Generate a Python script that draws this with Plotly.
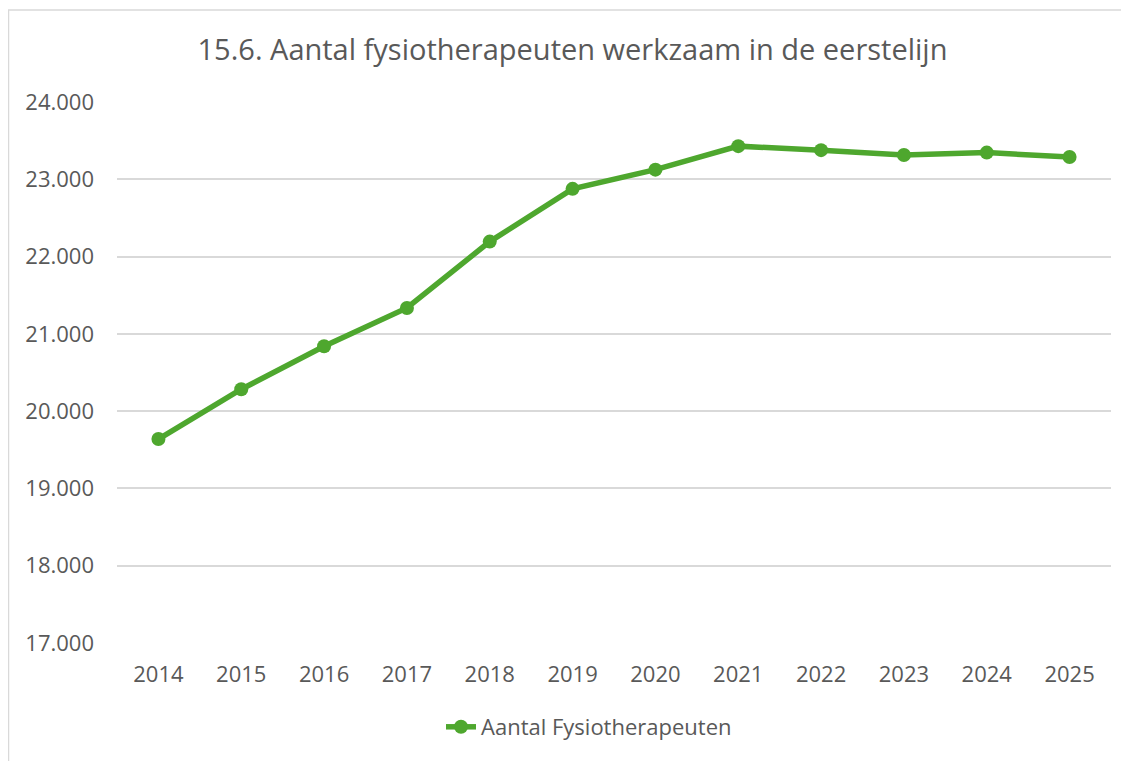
import plotly.graph_objects as go

years = ["2014", "2015", "2016", "2017", "2018", "2019", "2020", "2021", "2022", "2023", "2024", "2025"]
values = [19639, 20284, 20840, 21335, 22194, 22876, 23125, 23429, 23377, 23315, 23345, 23288]
y_ticks = [17000, 18000, 19000, 20000, 21000, 22000, 23000, 24000]

green = "#4EA72E"
grey_text = "#595959"
font_family = "Open Sans, Liberation Sans, sans-serif"

L, R, T, B = 109, 26, 94, 126
H = 761 - T - B
W = 1129 - L - R

fig = go.Figure()
fig.add_trace(go.Scatter(
    x=years, y=values, mode="lines+markers",
    name="Aantal Fysiotherapeuten",
    line=dict(color=green, width=5.5),
    marker=dict(color=green, size=14),
))

fig.update_layout(
    width=1129, height=761,
    margin=dict(l=L, r=R, t=T, b=B),
    paper_bgcolor="white", plot_bgcolor="white",
    separators=",.",
    title=dict(text="15.6. Aantal fysiotherapeuten werkzaam in de eerstelijn",
               x=0.5, xanchor="center", y=1 - 42 / 761, yanchor="middle",
               font=dict(family=font_family, size=29, color=grey_text)),
    font=dict(family=font_family, size=22, color=grey_text),
    showlegend=True,
    legend=dict(orientation="h", x=(581 - L) / W, xanchor="center", y=-84 / H, yanchor="middle",
                font=dict(size=22, color=grey_text)),
    xaxis=dict(type="category", range=[-0.5, 11.5], showgrid=False, showline=False, ticks="",
               automargin=False, ticklabelstandoff=16,
               tickfont=dict(size=22, color=grey_text)),
    yaxis=dict(range=[17000, 24000], tickvals=y_ticks, tickformat=",d",
               showgrid=True, gridcolor="#d9d9d9", gridwidth=1.5,
               zeroline=False, showline=False, ticks="", automargin=False,
               tickfont=dict(size=22, color=grey_text), ticklabelstandoff=22),
    shapes=[dict(type="rect", xref="paper", yref="paper",
                 x0=-(L - 0.5) / W, x1=1 + (R + 20) / W, y0=-(B + 20) / H, y1=1 + (T - 2) / H,
                 line=dict(color="#d9d9d9", width=1.5), fillcolor="rgba(0,0,0,0)", layer="below")],
)

fig.write_html("out.html")
